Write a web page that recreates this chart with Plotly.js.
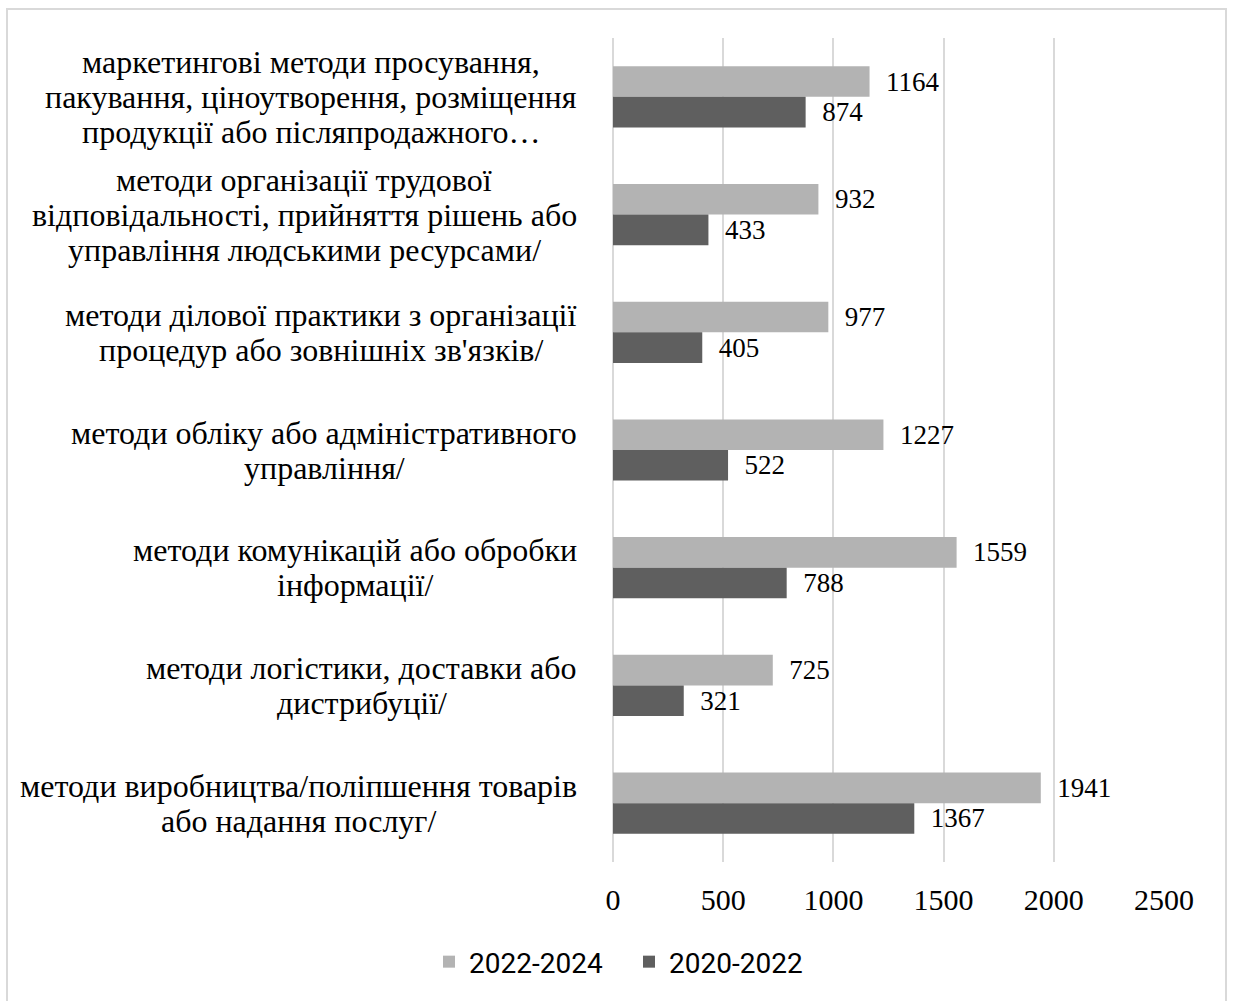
<!DOCTYPE html>
<html>
<head>
<meta charset="utf-8">
<script src="https://cdn.plot.ly/plotly-3.0.1.min.js"></script>
<style>
html,body{margin:0;padding:0;background:#fff;}
#chart{width:1233px;height:1001px;}
</style>
</head>
<body>
<div id="chart"></div>
<script>
const categories = [
  "маркетингові методи просування,<br>пакування, ціноутворення, розміщення<br>продукції або післяпродажного…",
  "методи організації трудової<br>відповідальності, прийняття рішень або<br>управління людськими ресурсами/",
  "методи ділової практики з організації<br>процедур або зовнішніх зв'язків/",
  "методи обліку або адміністративного<br>управління/",
  "методи комунікацій або обробки<br>інформації/",
  "методи логістики, доставки або<br>дистрибуції/",
  "методи виробництва/поліпшення товарів<br>або надання послуг/"
];
const series2022_2024 = [1164, 932, 977, 1227, 1559, 725, 1941];
const series2020_2022 = [874, 433, 405, 522, 788, 321, 1367];
const seriesNames = ["2022-2024", "2020-2022"];
const tickValues = [0, 500, 1000, 1500, 2000, 2500];

const serif = "Liberation Serif, Times New Roman, serif";
const labelPad = "\u00a0\u00a0";
const catFontSize = 32;
const catLineStep = 35;

const traces = [
  {
    type: "bar", orientation: "h", name: seriesNames[0],
    y: categories, x: series2022_2024,
    marker: {color: "#b3b3b3"},
    text: series2022_2024.map(v => labelPad + v),
    textposition: "outside", cliponaxis: false,
    textfont: {family: serif, size: 27, color: "#000"},
    hoverinfo: "x"
  },
  {
    type: "bar", orientation: "h", name: seriesNames[1],
    y: categories, x: series2020_2022,
    marker: {color: "#5f5f5f"},
    text: series2020_2022.map(v => labelPad + v),
    textposition: "outside", cliponaxis: false,
    textfont: {family: serif, size: 27, color: "#000"},
    hoverinfo: "x"
  }
];

const W = 551, H = 824, L = 613, T = 38;
function px2x(p){ return (p - L) / W; }
function py2y(p){ return (T + H - p) / H; }

// measure text to center the lines of each category label block
const ctx = document.createElement("canvas").getContext("2d");
ctx.font = catFontSize + "px 'Liberation Serif'";
const labelRight = 577;
const annotations = [];
categories.forEach(c => {
  const lines = c.split("<br>");
  const maxW = Math.max(...lines.map(s => ctx.measureText(s).width));
  const cx = labelRight - maxW / 2;
  const n = lines.length;
  lines.forEach((s, i) => {
    annotations.push({
      xref: "paper", yref: "y", x: px2x(cx), y: c, xanchor: "center", yanchor: "middle",
      yshift: ((n - 1) / 2 - i) * catLineStep, text: s, showarrow: false,
      font: {family: serif, size: catFontSize, color: "#000"}
    });
  });
});

const layout = {
  width: 1233, height: 1001,
  margin: {l: L, r: 1233 - L - W, t: T, b: 1001 - T - H},
  paper_bgcolor: "#fff", plot_bgcolor: "#fff",
  barmode: "group", bargap: 0.48, bargroupgap: 0,
  showlegend: true,
  legend: {
    orientation: "h", xref: "container", yref: "container",
    x: 429 / 1233, xanchor: "left", y: 0.039, yanchor: "middle",
    font: {family: "Roboto, Open Sans, sans-serif", size: 28, color: "#000"},
    traceorder: "normal", itemwidth: 30, entrywidth: 155, entrywidthmode: "pixels"
  },
  xaxis: {
    range: [0, 2500], tickvals: tickValues, ticktext: tickValues.map(String),
    showgrid: true, gridcolor: "#d9d9d9", gridwidth: 2,
    zeroline: true, zerolinecolor: "#d9d9d9", zerolinewidth: 2,
    showline: false, ticks: "", ticklabelstandoff: 17,
    tickfont: {family: serif, size: 30, color: "#000"}
  },
  yaxis: {
    autorange: "reversed", showticklabels: false, showgrid: false,
    zeroline: false, showline: false, ticks: ""
  },
  annotations: annotations,
  shapes: [{
    type: "rect", xref: "paper", yref: "paper",
    x0: px2x(7), x1: px2x(1226), y0: py2y(1010), y1: py2y(9),
    line: {color: "#d9d9d9", width: 2}, fillcolor: "rgba(0,0,0,0)", layer: "below"
  }]
};

Plotly.newPlot("chart", traces, layout, {displayModeBar: false, staticPlot: true});
</script>
</body>
</html>
